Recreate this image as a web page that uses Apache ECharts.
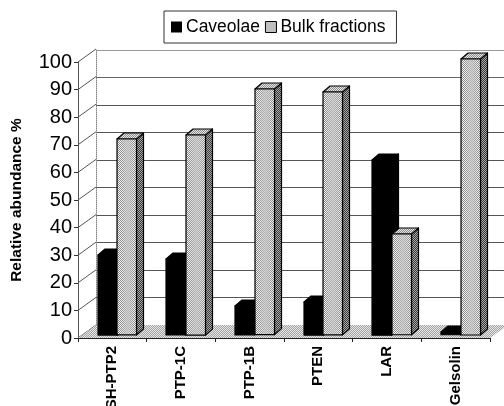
<!DOCTYPE html>
<html><head><meta charset="utf-8">
<style>html,body{margin:0;padding:0;background:#fff;overflow:hidden}#c{width:504px;height:406px}</style>
<script src="https://cdn.jsdelivr.net/npm/echarts@6/dist/echarts.min.js"></script>
</head><body><div id="c"></div>
<script>
const categories = ['SH-PTP2','PTP-1C','PTP-1B','PTEN','LAR','Gelsolin'];
const caveolae = [29, 27.5, 10.5, 12, 63.5, 1];
const bulk = [71, 72.5, 89, 88, 36.5, 100];
const yTicks = [0,10,20,30,40,50,60,70,80,90,100];
const FONT = '"Liberation Sans", Arial, sans-serif';
const DX = 7, DY = 6, BAR = 0.284;

function dither(a, b) {
  const c = document.createElement('canvas'); c.width = 2; c.height = 2;
  const g = c.getContext('2d');
  g.fillStyle = a; g.fillRect(0,0,2,2);
  g.fillStyle = b; g.fillRect(0,0,1,1); g.fillRect(1,1,1,1);
  return {image: c, repeat: 'repeat'};
}
function frontTile() {
  const c = document.createElement('canvas'); c.width = 20; c.height = 2;
  const g = c.getContext('2d');
  for (let x = 0; x < 20; x++) {
    const d = Math.abs(x - 10) / 10;
    const amp = 10 + 55 * d;
    const base = 196 - 8 * d;
    for (let y = 0; y < 2; y++) {
      const v = Math.round(base + ((x + y) % 2 ? amp : -amp));
      g.fillStyle = 'rgb(' + v + ',' + v + ',' + v + ')';
      g.fillRect(x, y, 1, 1);
    }
  }
  return {image: c, repeat: 'repeat'};
}
const pFront = frontTile();
const pSide = dither('#3a3a3a', '#a8a8a8');
const pTop = dither('#8c8c8c', '#e6e6e6');
const pFloor = dither('#a4a4a4', '#e6e6e6');
const pLegend = dither('#909090', '#eeeeee');

function barRenderer(side, solid) {
  return function (params, api) {
    const cat = api.value(0), val = api.value(1);
    const top = api.coord([cat, val]), base = api.coord([cat, 0]);
    const w = api.size([1, 0])[0] * BAR;
    const x0 = side < 0 ? top[0] - w : top[0];
    const h = base[1] - top[1];
    const st = {stroke: '#000', lineWidth: 1.2, lineJoin: 'round'};
    const poly = (pts, fill) => ({
      type: 'polygon', x: Math.round(x0), y: Math.round(top[1]),
      shape: {points: pts},
      style: Object.assign({fill: fill}, st)
    });
    return {type: 'group', children: [
      poly([[w,0],[w+DX,-DY],[w+DX,h-DY],[w,h]], solid ? '#000' : pSide),
      poly([[0,0],[DX,-DY],[w+DX,-DY],[w,0]], solid ? '#000' : pTop),
      poly([[0,0],[w,0],[w,h],[0,h]], solid ? '#000' : pFront)
    ]};
  };
}

const option = {
  backgroundColor: '#fff',
  animation: false,
  textStyle: {fontFamily: FONT},
  legend: {
    left: 164, top: 11, padding: [7, 11, 7, 7],
    orient: 'horizontal', itemWidth: 11, itemHeight: 11, itemGap: 5,
    borderColor: '#333', borderWidth: 1, backgroundColor: '#fff',
    textStyle: {fontSize: 17.5, color: '#000', fontFamily: FONT, padding: [0,0,0,-1]},
    data: [
      {name: 'Caveolae', icon: 'rect', itemStyle: {color: '#000', borderWidth: 0}},
      {name: 'Bulk fractions', icon: 'rect', itemStyle: {color: pLegend, borderColor: '#000', borderWidth: 1}}
    ]
  },
  grid: [
    {left: 96, width: 412, top: 50, height: 275, outerBoundsMode: 'none'},
    {left: 78, width: 412, top: 62, height: 276, outerBoundsMode: 'none'},
    {left: 83, width: 412, top: 59, height: 276, outerBoundsMode: 'none'}
  ],
  xAxis: [
    {gridIndex: 0, type: 'category', data: categories, show: false},
    {gridIndex: 1, type: 'category', data: categories,
      axisLine: {show: true, lineStyle: {color: '#222', width: 1}},
      axisTick: {show: true, length: 4, lineStyle: {color: '#222'}},
      axisLabel: {show: true, interval: 0, rotate: 90, margin: 8, fontSize: 15, fontWeight: 'bold', color: '#000', fontFamily: FONT}},
    {gridIndex: 2, type: 'category', data: categories, show: false}
  ],
  yAxis: [
    {gridIndex: 0, type: 'value', min: 0, max: 100, interval: 10,
      axisLine: {show: true, lineStyle: {color: '#888', type: 'dotted', width: 1}},
      axisTick: {show: false}, axisLabel: {show: false},
      splitLine: {show: true, lineStyle: {width: 1, color: ['#777','#555','#555','#555','#555','#555','#555','#555','#555','#666','#999']}}},
    {gridIndex: 1, type: 'value', min: 0, max: 100, interval: 10,
      name: 'Relative abundance %', nameLocation: 'middle', nameGap: 53, nameRotate: 90,
      nameTextStyle: {fontSize: 15.5, fontWeight: 'bold', color: '#000', fontFamily: FONT},
      axisLine: {show: true, lineStyle: {color: '#555', width: 1}},
      axisTick: {show: true, length: 4, lineStyle: {color: '#333'}},
      axisLabel: {margin: 6, fontSize: 20, color: '#000', fontFamily: FONT},
      splitLine: {show: false}},
    {gridIndex: 2, type: 'value', min: 0, max: 100, interval: 10, show: false, splitLine: {show: false}}
  ],
  series: [
    {type: 'custom', name: 'connectors', xAxisIndex: 1, yAxisIndex: 1, z: 1, silent: true,
      data: yTicks.map(t => [t]), encode: {y: 0},
      renderItem: function (params, api) {
        const rect = params.coordSys;
        const y = api.coord([0, api.value(0)])[1];
        return {type: 'line', shape: {x1: rect.x, y1: y, x2: rect.x + 18, y2: y - 13},
          style: {stroke: '#555', lineWidth: 1}};
      }},
    {type: 'custom', name: 'floor', xAxisIndex: 1, yAxisIndex: 1, z: 1, silent: true,
      data: [[0]], encode: {y: 0},
      renderItem: function (params, api) {
        const rect = params.coordSys;
        const y = api.coord([0, 0])[1];
        return {type: 'polygon', shape: {points: [[rect.x, y],[rect.x + 18, y - 13],[rect.x + rect.width + 18, y - 13],[rect.x + rect.width, y]]},
          style: {fill: pFloor, stroke: null}};
      }},
    {type: 'custom', name: 'Caveolae', xAxisIndex: 2, yAxisIndex: 2, z: 3, silent: true,
      itemStyle: {color: '#000'},
      data: caveolae.map((v, i) => [i, v]), encode: {x: 0, y: 1},
      renderItem: barRenderer(-1, true)},
    {type: 'custom', name: 'Bulk fractions', xAxisIndex: 2, yAxisIndex: 2, z: 4, silent: true,
      itemStyle: {color: pLegend},
      data: bulk.map((v, i) => [i, v]), encode: {x: 0, y: 1},
      renderItem: barRenderer(1, false)}
  ]
};
const chart = echarts.init(document.getElementById('c'), null, {renderer: 'canvas', width: 504, height: 406});
chart.setOption(option);
</script></body></html>
